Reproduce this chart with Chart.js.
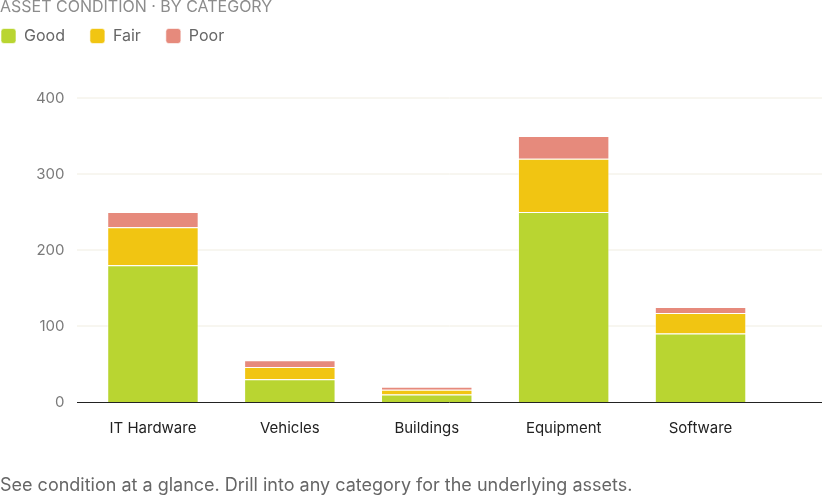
<!DOCTYPE html>
<html lang="en">

<head>
    <meta charset="UTF-8">
    <title>Asset Condition</title>
    <style>
        body { margin: 0; background: #fff; }
    </style>
</head>

<body>
    <canvas id="conditionChart" width="823" height="497"></canvas>

    <script src="https://cdn.jsdelivr.net/npm/chart.js"></script>
    <script>
        const categories = ['IT Hardware', 'Vehicles', 'Buildings', 'Equipment', 'Software'];
        const goodCounts = [180, 30, 10, 250, 90];
        const fairCounts = [50, 16, 6, 70, 27];
        const poorCounts = [20, 9, 4, 30, 8];
        const yTicks = [0, 100, 200, 300, 400];

        Chart.defaults.font.family = 'Inter';

        // grid lines + baseline run a bit wider than the plot area
        const wideGrid = {
            id: 'wideGrid',
            beforeDatasetsDraw(chart) {
                const ctx = chart.ctx;
                const y = chart.scales.y;
                const x0 = chart.chartArea.left - 7.5;
                const x1 = chart.width - 1;
                ctx.save();
                ctx.lineWidth = 1;
                ctx.strokeStyle = '#f0ede1';
                yTicks.slice(1).forEach(v => {
                    const py = y.getPixelForValue(v);
                    ctx.beginPath();
                    ctx.moveTo(x0, py);
                    ctx.lineTo(x1, py);
                    ctx.stroke();
                });
                ctx.strokeStyle = '#222';
                const base = Math.round(y.getPixelForValue(0)) + 0.5;
                ctx.beginPath();
                ctx.moveTo(x0, base);
                ctx.lineTo(x1, base);
                ctx.stroke();
                ctx.restore();
            }
        };

        // pull the legend up under the title, flush left
        const legendPlace = {
            id: 'legendPlace',
            afterLayout(chart) {
                chart.legend.left = -24;
                chart.legend.top = 3;
            }
        };

        new Chart(document.getElementById('conditionChart'), {
            type: 'bar',
            data: {
                labels: categories,
                datasets: [
                    { label: 'Good', data: goodCounts, backgroundColor: '#b9d531' },
                    { label: 'Fair', data: fairCounts, backgroundColor: '#f1c512' },
                    { label: 'Poor', data: poorCounts, backgroundColor: '#e68a7c' }
                ]
            },
            options: {
                responsive: false,
                animation: false,
                layout: { padding: { right: 54 } },
                datasets: {
                    bar: {
                        borderWidth: 1,
                        borderColor: 'rgba(255,255,255,0.6)',
                        barPercentage: 1,
                        categoryPercentage: 0.668
                    }
                },
                scales: {
                    x: {
                        stacked: true,
                        grid: { display: false },
                        border: { display: false },
                        ticks: { color: '#222', font: { size: 15 }, padding: 9 }
                    },
                    y: {
                        stacked: true,
                        min: 0,
                        max: 400,
                        grid: { display: false, drawTicks: false },
                        border: { display: false },
                        ticks: { stepSize: 100, color: '#7a7a7a', font: { size: 15 }, padding: 20 },
                        afterFit(scale) { scale.width = 84.5; }
                    }
                },
                plugins: {
                    title: {
                        display: true,
                        text: 'ASSET CONDITION · BY CATEGORY',
                        align: 'start',
                        color: '#8c8c8c',
                        font: { size: 16, weight: 'normal', lineHeight: 1 },
                        padding: { top: -1, bottom: 32 }
                    },
                    legend: {
                        align: 'start',
                        labels: {
                            color: '#666',
                            font: { size: 16 },
                            boxWidth: 15,
                            boxHeight: 15,
                            useBorderRadius: true,
                            borderRadius: 3,
                            padding: 25
                        }
                    },
                    subtitle: {
                        display: true,
                        position: 'bottom',
                        align: 'start',
                        text: 'See condition at a glance. Drill into any category for the underlying assets.',
                        color: '#666',
                        font: { size: 18, weight: 'normal', lineHeight: 1 },
                        padding: { top: 31, bottom: 2 }
                    },
                    tooltip: { enabled: false }
                }
            },
            plugins: [wideGrid, legendPlace]
        });
    </script>
</body>

</html>
